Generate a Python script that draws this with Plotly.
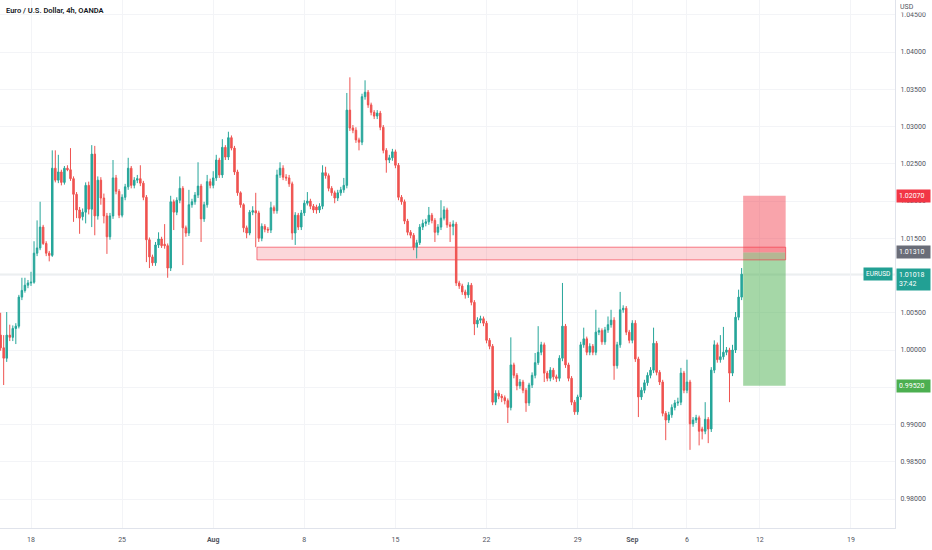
import pandas as pd
import plotly.graph_objects as go

# ---------------- data (EURUSD 4h, OANDA) ----------------
open_ = [
    1.0020, 1.0003, 0.9989, 1.0020, 1.0017, 1.0029, 1.0032, 1.0071, 1.0080, 1.0087,
    1.0090, 1.0091, 1.0130, 1.0137, 1.0165, 1.0143, 1.0130, 1.0127, 1.0244, 1.0228,
    1.0239, 1.0225, 1.0244, 1.0242, 1.0230, 1.0209, 1.0188, 1.0179, 1.0185, 1.0221,
    1.0189, 1.0263, 1.0180, 1.0228, 1.0204, 1.0180, 1.0152, 1.0180, 1.0231, 1.0213,
    1.0181, 1.0205, 1.0219, 1.0244, 1.0221, 1.0228, 1.0230, 1.0224, 1.0205, 1.0148,
    1.0125, 1.0117, 1.0141, 1.0149, 1.0142, 1.0140, 1.0110, 1.0199, 1.0185, 1.0201,
    1.0217, 1.0164, 1.0157, 1.0195, 1.0199, 1.0208, 1.0220, 1.0176, 1.0195, 1.0226,
    1.0221, 1.0231, 1.0255, 1.0235, 1.0272, 1.0259, 1.0285, 1.0271, 1.0239, 1.0211,
    1.0195, 1.0164, 1.0157, 1.0185, 1.0187, 1.0184, 1.0150, 1.0166, 1.0162, 1.0161,
    1.0191, 1.0187, 1.0235, 1.0244, 1.0232, 1.0231, 1.0223, 1.0157, 1.0181, 1.0165,
    1.0184, 1.0197, 1.0200, 1.0193, 1.0192, 1.0188, 1.0193, 1.0238, 1.0234, 1.0217,
    1.0211, 1.0204, 1.0211, 1.0215, 1.0221, 1.0322, 1.0298, 1.0295, 1.0282, 1.0279,
    1.0340, 1.0346, 1.0329, 1.0319, 1.0314, 1.0318, 1.0299, 1.0268, 1.0255, 1.0258,
    1.0266, 1.0248, 1.0205, 1.0199, 1.0173, 1.0158, 1.0154, 1.0138, 1.0144, 1.0165,
    1.0170, 1.0172, 1.0181, 1.0174, 1.0158, 1.0165, 1.0177, 1.0188, 1.0168, 1.0166,
    1.0169, 1.0090, 1.0086, 1.0078, 1.0074, 1.0087, 1.0064, 1.0035, 1.0040, 1.0042,
    1.0036, 1.0013, 1.0005, 0.9930, 0.9942, 0.9938, 0.9936, 0.9932, 0.9923, 0.9980,
    0.9966, 0.9952, 0.9957, 0.9946, 0.9929, 0.9953, 0.9966, 0.9983, 0.9997, 1.0007,
    0.9969, 0.9962, 0.9973, 0.9964, 0.9962, 0.9989, 1.0032, 0.9980, 0.9962, 0.9930,
    0.9917, 0.9937, 1.0007, 1.0015, 0.9997, 1.0005, 0.9997, 1.0024, 1.0026, 1.0011,
    1.0027, 1.0034, 1.0040, 0.9979, 1.0007, 1.0054, 1.0056, 1.0024, 1.0013, 1.0036,
    0.9988, 0.9937, 0.9946, 0.9956, 0.9966, 0.9973, 1.0009, 0.9970, 0.9957, 0.9915,
    0.9906, 0.9913, 0.9923, 0.9929, 0.9930, 0.9969, 0.9946, 0.9957, 0.9901, 0.9906,
    0.9909, 0.9894, 0.9891, 0.9907, 0.9894, 0.9973, 1.0007, 0.9987, 0.9991, 0.9997,
    1.0000, 0.9969, 1.0000, 1.0044, 1.0071,
]
high = [
    1.0050, 1.0020, 1.0051, 1.0034, 1.0033, 1.0036, 1.0074, 1.0097, 1.0097, 1.0094,
    1.0105, 1.0146, 1.0174, 1.0199, 1.0168, 1.0146, 1.0133, 1.0268, 1.0268, 1.0262,
    1.0242, 1.0247, 1.0248, 1.0271, 1.0233, 1.0212, 1.0192, 1.0190, 1.0225, 1.0226,
    1.0275, 1.0274, 1.0233, 1.0232, 1.0210, 1.0184, 1.0184, 1.0255, 1.0235, 1.0216,
    1.0209, 1.0223, 1.0258, 1.0247, 1.0232, 1.0235, 1.0248, 1.0227, 1.0208, 1.0151,
    1.0128, 1.0145, 1.0158, 1.0152, 1.0169, 1.0143, 1.0207, 1.0202, 1.0205, 1.0233,
    1.0220, 1.0167, 1.0215, 1.0203, 1.0212, 1.0252, 1.0223, 1.0199, 1.0235, 1.0230,
    1.0240, 1.0262, 1.0258, 1.0283, 1.0275, 1.0293, 1.0288, 1.0274, 1.0242, 1.0213,
    1.0197, 1.0167, 1.0188, 1.0193, 1.0211, 1.0187, 1.0170, 1.0169, 1.0165, 1.0199,
    1.0194, 1.0242, 1.0252, 1.0248, 1.0236, 1.0235, 1.0226, 1.0185, 1.0184, 1.0188,
    1.0201, 1.0212, 1.0203, 1.0196, 1.0195, 1.0197, 1.0248, 1.0246, 1.0237, 1.0220,
    1.0214, 1.0215, 1.0219, 1.0231, 1.0345, 1.0366, 1.0302, 1.0299, 1.0285, 1.0344,
    1.0362, 1.0349, 1.0332, 1.0322, 1.0322, 1.0321, 1.0302, 1.0271, 1.0262, 1.0270,
    1.0269, 1.0251, 1.0208, 1.0202, 1.0176, 1.0161, 1.0157, 1.0148, 1.0169, 1.0175,
    1.0176, 1.0192, 1.0184, 1.0177, 1.0169, 1.0201, 1.0193, 1.0191, 1.0172, 1.0174,
    1.0172, 1.0093, 1.0089, 1.0081, 1.0091, 1.0090, 1.0067, 1.0044, 1.0046, 1.0045,
    1.0039, 1.0016, 1.0008, 0.9946, 0.9946, 0.9941, 0.9939, 0.9935, 1.0017, 0.9983,
    0.9969, 0.9961, 0.9960, 0.9949, 0.9956, 0.9970, 0.9996, 1.0032, 1.0011, 1.0010,
    0.9972, 0.9977, 0.9976, 0.9967, 0.9993, 1.0090, 1.0035, 0.9983, 0.9965, 0.9933,
    0.9940, 1.0011, 1.0030, 1.0018, 1.0009, 1.0008, 1.0054, 1.0030, 1.0029, 1.0031,
    1.0045, 1.0054, 1.0044, 1.0011, 1.0078, 1.0060, 1.0059, 1.0027, 1.0040, 1.0040,
    0.9991, 0.9950, 0.9960, 0.9970, 0.9977, 1.0030, 1.0012, 0.9973, 0.9960, 0.9918,
    0.9917, 0.9927, 0.9933, 0.9936, 0.9976, 0.9972, 0.9987, 0.9960, 0.9910, 0.9913,
    0.9912, 0.9897, 0.9930, 0.9910, 0.9977, 1.0013, 1.0010, 1.0020, 1.0031, 1.0004,
    1.0003, 1.0007, 1.0051, 1.0081, 1.0110,
]
low = [
    0.9999, 0.9953, 0.9984, 1.0012, 1.0012, 1.0008, 1.0029, 1.0067, 1.0077, 1.0083,
    1.0086, 1.0089, 1.0126, 1.0134, 1.0141, 1.0126, 1.0119, 1.0125, 1.0225, 1.0224,
    1.0221, 1.0222, 1.0240, 1.0227, 1.0172, 1.0177, 1.0156, 1.0174, 1.0170, 1.0182,
    1.0165, 1.0154, 1.0175, 1.0195, 1.0170, 1.0129, 1.0148, 1.0176, 1.0209, 1.0177,
    1.0178, 1.0201, 1.0215, 1.0217, 1.0217, 1.0224, 1.0220, 1.0201, 1.0118, 1.0110,
    1.0113, 1.0113, 1.0137, 1.0137, 1.0136, 1.0097, 1.0106, 1.0161, 1.0181, 1.0197,
    1.0114, 1.0152, 1.0153, 1.0191, 1.0195, 1.0204, 1.0145, 1.0172, 1.0191, 1.0217,
    1.0217, 1.0227, 1.0231, 1.0231, 1.0255, 1.0255, 1.0268, 1.0235, 1.0207, 1.0191,
    1.0158, 1.0150, 1.0154, 1.0181, 1.0138, 1.0145, 1.0146, 1.0158, 1.0157, 1.0157,
    1.0183, 1.0183, 1.0231, 1.0228, 1.0227, 1.0219, 1.0148, 1.0141, 1.0161, 1.0161,
    1.0180, 1.0194, 1.0189, 1.0184, 1.0183, 1.0184, 1.0189, 1.0230, 1.0213, 1.0207,
    1.0197, 1.0200, 1.0207, 1.0211, 1.0217, 1.0294, 1.0291, 1.0278, 1.0268, 1.0275,
    1.0336, 1.0325, 1.0315, 1.0310, 1.0310, 1.0295, 1.0264, 1.0238, 1.0251, 1.0254,
    1.0244, 1.0201, 1.0195, 1.0169, 1.0154, 1.0150, 1.0134, 1.0123, 1.0141, 1.0161,
    1.0166, 1.0168, 1.0170, 1.0145, 1.0154, 1.0161, 1.0174, 1.0164, 1.0145, 1.0154,
    1.0086, 1.0082, 1.0074, 1.0069, 1.0070, 1.0060, 1.0020, 1.0030, 1.0036, 1.0032,
    1.0009, 1.0001, 0.9926, 0.9926, 0.9934, 0.9930, 0.9927, 0.9902, 0.9919, 0.9962,
    0.9946, 0.9948, 0.9942, 0.9917, 0.9925, 0.9949, 0.9962, 0.9980, 0.9993, 0.9957,
    0.9958, 0.9958, 0.9960, 0.9957, 0.9958, 0.9985, 0.9976, 0.9958, 0.9926, 0.9913,
    0.9913, 0.9933, 1.0003, 0.9993, 0.9993, 0.9993, 0.9993, 1.0020, 1.0007, 1.0007,
    1.0023, 1.0030, 0.9960, 0.9975, 1.0003, 1.0050, 1.0020, 1.0009, 1.0009, 0.9984,
    0.9910, 0.9933, 0.9942, 0.9952, 0.9962, 0.9969, 0.9966, 0.9953, 0.9911, 0.9879,
    0.9902, 0.9909, 0.9919, 0.9925, 0.9926, 0.9942, 0.9942, 0.9866, 0.9897, 0.9902,
    0.9872, 0.9880, 0.9887, 0.9875, 0.9890, 0.9969, 0.9983, 0.9983, 0.9987, 0.9993,
    0.9930, 0.9965, 0.9996, 1.0040, 1.0067,
]
close = [
    1.0003, 0.9989, 1.0020, 1.0017, 1.0029, 1.0032, 1.0071, 1.0080, 1.0087, 1.0090,
    1.0091, 1.0130, 1.0137, 1.0165, 1.0143, 1.0130, 1.0127, 1.0244, 1.0228, 1.0239,
    1.0225, 1.0244, 1.0242, 1.0230, 1.0209, 1.0188, 1.0177, 1.0185, 1.0221, 1.0189,
    1.0263, 1.0180, 1.0228, 1.0204, 1.0180, 1.0152, 1.0180, 1.0231, 1.0213, 1.0181,
    1.0205, 1.0219, 1.0244, 1.0221, 1.0228, 1.0230, 1.0224, 1.0205, 1.0148, 1.0125,
    1.0117, 1.0141, 1.0149, 1.0140, 1.0140, 1.0110, 1.0199, 1.0185, 1.0201, 1.0217,
    1.0164, 1.0157, 1.0195, 1.0199, 1.0208, 1.0220, 1.0176, 1.0195, 1.0226, 1.0221,
    1.0231, 1.0255, 1.0235, 1.0272, 1.0259, 1.0285, 1.0271, 1.0239, 1.0211, 1.0195,
    1.0164, 1.0157, 1.0185, 1.0187, 1.0184, 1.0150, 1.0166, 1.0162, 1.0161, 1.0191,
    1.0187, 1.0235, 1.0244, 1.0232, 1.0231, 1.0223, 1.0157, 1.0181, 1.0165, 1.0184,
    1.0197, 1.0200, 1.0193, 1.0188, 1.0188, 1.0193, 1.0238, 1.0234, 1.0217, 1.0211,
    1.0204, 1.0211, 1.0215, 1.0221, 1.0322, 1.0298, 1.0295, 1.0282, 1.0279, 1.0340,
    1.0346, 1.0329, 1.0319, 1.0314, 1.0318, 1.0299, 1.0268, 1.0255, 1.0258, 1.0266,
    1.0248, 1.0205, 1.0199, 1.0173, 1.0158, 1.0154, 1.0138, 1.0144, 1.0165, 1.0170,
    1.0172, 1.0181, 1.0174, 1.0158, 1.0165, 1.0177, 1.0188, 1.0168, 1.0166, 1.0169,
    1.0090, 1.0086, 1.0078, 1.0074, 1.0087, 1.0064, 1.0035, 1.0040, 1.0042, 1.0036,
    1.0013, 1.0005, 0.9930, 0.9942, 0.9938, 0.9936, 0.9932, 0.9923, 0.9980, 0.9966,
    0.9952, 0.9957, 0.9946, 0.9929, 0.9953, 0.9966, 0.9983, 0.9997, 1.0007, 0.9969,
    0.9962, 0.9973, 0.9964, 0.9962, 0.9989, 1.0032, 0.9980, 0.9962, 0.9930, 0.9917,
    0.9937, 1.0007, 1.0015, 0.9997, 1.0005, 0.9997, 1.0024, 1.0026, 1.0011, 1.0027,
    1.0034, 1.0040, 0.9979, 1.0007, 1.0054, 1.0056, 1.0024, 1.0013, 1.0036, 0.9988,
    0.9937, 0.9946, 0.9956, 0.9966, 0.9973, 1.0009, 0.9970, 0.9957, 0.9915, 0.9906,
    0.9913, 0.9923, 0.9929, 0.9930, 0.9969, 0.9946, 0.9957, 0.9901, 0.9906, 0.9909,
    0.9891, 0.9891, 0.9907, 0.9894, 0.9973, 1.0007, 0.9987, 0.9991, 0.9997, 1.0000,
    0.9969, 1.0000, 1.0044, 1.0071, 1.01018,
]

first_bar_time = "2022-07-14 08:00"
tick_dates = ["2022-07-18", "2022-07-25", "2022-08-01", "2022-08-08", "2022-08-15",
              "2022-08-22", "2022-08-29", "2022-09-01", "2022-09-06", "2022-09-12", "2022-09-19"]
tick_labels = ["18", "25", "<b>Aug</b>", "8", "15", "22", "29", "<b>Sep</b>", "6", "12", "19"]
price_ticks = [0.980, 0.985, 0.990, 0.995, 1.000, 1.005, 1.010, 1.015,
               1.020, 1.025, 1.030, 1.035, 1.040, 1.045]

zone_start_time = "2022-08-03 08:00"
zone_low, zone_high = 1.0121, 1.0138
position_start_time = "2022-09-09 04:00"
position_end_time = "2022-09-13 12:00"
entry_price, stop_price, target_price = 1.0131, 1.0207, 0.9952
countdown = "37:42"
y_range = [0.97611, 1.04698]

# ---------------- bar index axis (weekends removed, 4h bars) ----------------
days = pd.bdate_range("2022-07-11", "2022-09-30")
slots = [d + pd.Timedelta(hours=h) for d in days for h in (0, 4, 8, 12, 16, 20)]
base = slots.index(pd.Timestamp(first_bar_time))


def pos(ts):
    return slots.index(pd.Timestamp(ts)) - base


n = len(close)
x = list(range(n))
tick_pos = [pos(d) for d in tick_dates]
last = close[-1]

UP, DOWN = "#26a69a", "#ef5350"

fig = go.Figure()
fig.add_trace(go.Candlestick(
    x=x, open=open_, high=high, low=low, close=close,
    increasing=dict(line=dict(color=UP, width=1), fillcolor=UP),
    decreasing=dict(line=dict(color=DOWN, width=1), fillcolor=DOWN),
    whiskerwidth=0, hoverinfo="skip", showlegend=False,
))

px0 = pos(position_start_time) - 0.5
px1 = pos(position_end_time) - 0.5
shapes = [
    dict(type="rect", xref="x", yref="y", x0=px0, x1=px1, y0=entry_price, y1=stop_price,
         fillcolor="rgba(242,54,69,0.45)", line=dict(width=0), layer="between"),
    dict(type="rect", xref="x", yref="y", x0=px0, x1=px1, y0=target_price, y1=entry_price,
         fillcolor="rgba(76,175,80,0.5)", line=dict(width=0), layer="between"),
    dict(type="rect", xref="x", yref="y", x0=pos(zone_start_time) + 0.4, x1=px1,
         y0=zone_low, y1=zone_high, fillcolor="rgba(242,54,69,0.2)",
         line=dict(color="rgba(242,54,69,0.65)", width=1), layer="between"),
    dict(type="line", xref="paper", yref="y", x0=0, x1=1, y0=last, y1=last,
         line=dict(color="rgba(120,140,150,0.22)", width=1), layer="between"),
]

FONT = "Roboto"
ann = [
    dict(text="Euro / U.S. Dollar, 4h, OANDA", xref="paper", yref="paper", x=0, y=1,
         xanchor="left", yanchor="top", xshift=4, yshift=-4, showarrow=False,
         font=dict(family=FONT, size=7.5, color="#131722", weight=600)),
    dict(text="USD", xref="paper", yref="paper", x=1, y=1, xanchor="left", yanchor="top",
         xshift=3, yshift=-1, showarrow=False, bgcolor="white", width=30, align="left",
         font=dict(family=FONT, size=7, color="#50535e")),
]


def tag(price, text, color, yshift=0):
    return dict(text=text, xref="paper", yref="y", x=1, y=price, xanchor="left",
                yanchor="middle", xshift=1, yshift=yshift, showarrow=False, bgcolor=color,
                borderpad=2, align="left", width=29,
                font=dict(family=FONT, size=7, color="white"))


ann.append(tag(stop_price, f"{stop_price:.5f}", "#f23645"))
ann.append(tag(entry_price, f"{entry_price:.5f}", "#6a6d78"))
ann.append(tag(last, f"{last:.5f}<br>{countdown}", "#22a094", yshift=-5))
ann.append(tag(target_price, f"{target_price:.5f}", "#4caf50"))
ann.append(dict(text="EURUSD", xref="paper", yref="y", x=1, y=last, xanchor="right",
                yanchor="middle", xshift=-2, showarrow=False, bgcolor="#22a094",
                borderpad=2, font=dict(family=FONT, size=6.5, color="white")))

fig.update_layout(
    width=932, height=550,
    margin=dict(l=0, r=37, t=0, b=22),
    paper_bgcolor="white", plot_bgcolor="white",
    shapes=shapes, annotations=ann,
    showlegend=False,
    xaxis=dict(range=[-0.21, 294.5], tickvals=tick_pos, ticktext=tick_labels,
               showgrid=True, gridcolor="#f3f4f7", gridwidth=1, zeroline=False,
               showline=True, linecolor="#e0e3eb", linewidth=1, ticks="",
               rangeslider=dict(visible=False), fixedrange=True,
               tickfont=dict(family=FONT, size=7, color="#50535e"), ticklabelstandoff=5),
    yaxis=dict(range=y_range, side="right", tickvals=price_ticks, tickformat=".5f",
               showgrid=True, gridcolor="#f3f4f7", gridwidth=1, zeroline=False,
               showline=True, linecolor="#e0e3eb", linewidth=1, ticks="",
               tickfont=dict(family=FONT, size=7, color="#50535e"), ticklabelstandoff=3),
)

fig.write_html("out.html", config={"displayModeBar": False},
               post_script="document.body.style.margin='0';document.body.style.overflow='hidden';")
